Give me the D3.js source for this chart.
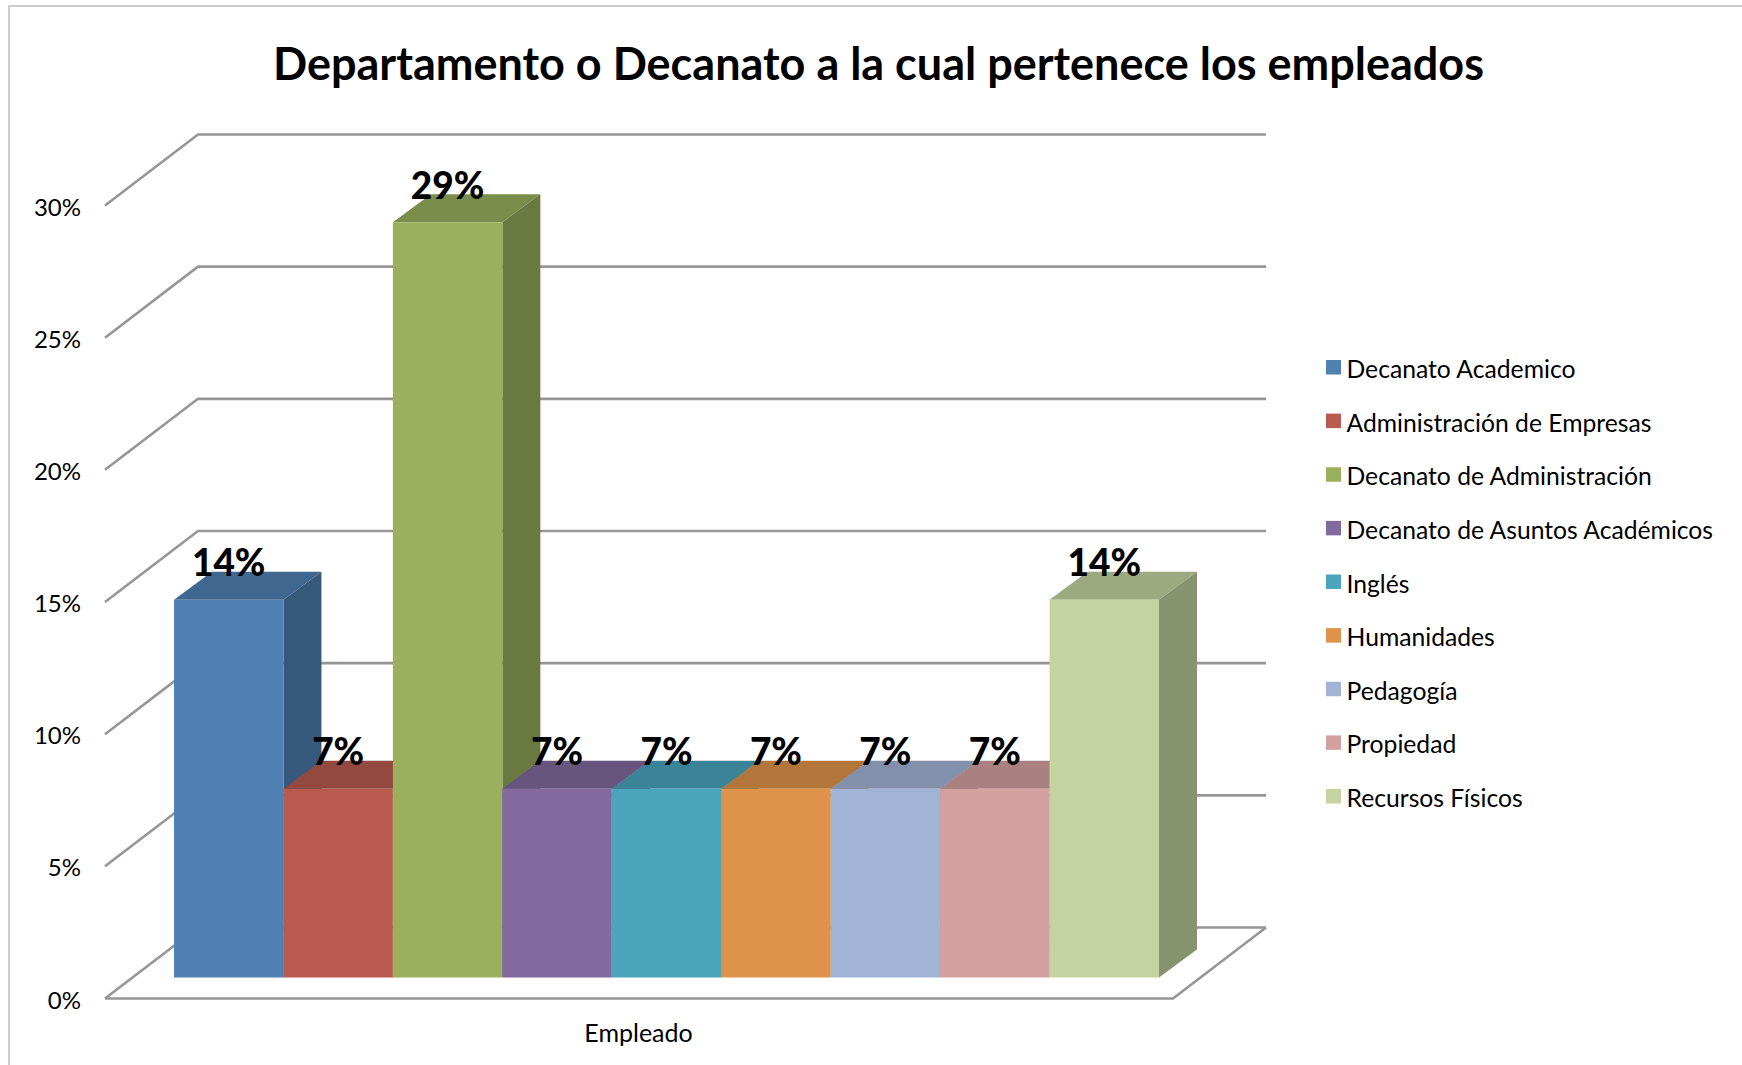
<!DOCTYPE html>
<html>
<head>
<meta charset="utf-8">
<title>Departamento o Decanato</title>
<script src="https://cdn.jsdelivr.net/npm/d3@7"></script>
<style>
html, body { margin: 0; padding: 0; background: #fff; }
svg { display: block; }
text { font-family: Lato, "Open Sans", sans-serif; fill: #000; }
</style>
</head>
<body>
<div id="chart-container"></div>
<script>
var titleText = "Departamento o Decanato a la cual pertenece los empleados";
var categoryLabel = "Empleado";
var departments = ["Decanato Academico", "Administración de Empresas", "Decanato de Administración",
    "Decanato de Asuntos Académicos", "Inglés", "Humanidades", "Pedagogía", "Propiedad", "Recursos Físicos"];
var values = [14.29, 7.14, 28.57, 7.14, 7.14, 7.14, 7.14, 7.14, 14.29];
var colors = ["#5081b3", "#b85a50", "#9ab05c", "#826a9e", "#4aa5bd", "#df934a", "#a2b4d6", "#d5a1a0", "#c4d3a0"];
var yTicks = [0, 5, 10, 15, 20, 25, 30];

var width = 1742;
var height = 1065;

// wall and floor of the 3d box
var wallDx = 93;
var wallDy = -71;
// depth of one bar
var barDx = 38;
var barDy = -28;

var svg = d3.select("#chart-container").append("svg")
    .attr("width", width)
    .attr("height", height);

var yWall = d3.scaleLinear().domain([0, 30]).range([998.5, 205.5]);
var xWall = d3.scaleLinear().domain([0, 1]).range([105, 1173]);
// bars stand a bit inside the floor, same units as the wall
var yBar = d3.scaleLinear().domain([0, 30]).range([977.5, 184.5]);
var xBar = d3.scaleBand().domain(departments).range([174, 1159]);
var yLegend = d3.scalePoint().domain(departments).range([368, 797]);

function shade(color, k) {
    var c = d3.rgb(color);
    return d3.rgb(c.r * k, c.g * k, c.b * k).formatHex();
}

function pointsOf(list) {
    return list.map(function(p) { return p[0] + "," + p[1]; }).join(" ");
}

// outer frame
svg.append("path")
    .attr("d", "M9," + height + "V6H" + width)
    .attr("fill", "none")
    .attr("stroke", "#cccccc")
    .attr("stroke-width", 2);

svg.append("text")
    .attr("x", 878.5)
    .attr("y", 80)
    .attr("text-anchor", "middle")
    .attr("font-size", 45)
    .attr("font-weight", 700)
    .text(titleText);

// gridlines: diagonal on the side wall, then straight along the back wall
svg.selectAll("path.grid")
    .data(yTicks)
    .enter()
    .append("path")
    .attr("class", "grid")
    .attr("fill", "none")
    .attr("stroke", "#969696")
    .attr("stroke-width", 2.6)
    .attr("d", function(d) {
        var x0 = xWall(0);
        var y0 = yWall(d);
        return "M" + x0 + "," + y0 + "L" + (x0 + wallDx) + "," + (y0 + wallDy) + "H" + (xWall(1) + wallDx);
    });

// front and right edge of the floor
svg.append("path")
    .attr("d", "M" + xWall(0) + "," + yWall(0) + "H" + xWall(1) + "L" + (xWall(1) + wallDx) + "," + (yWall(0) + wallDy))
    .attr("fill", "none")
    .attr("stroke", "#969696")
    .attr("stroke-width", 2.6);

svg.selectAll("text.tick")
    .data(yTicks)
    .enter()
    .append("text")
    .attr("class", "tick")
    .attr("x", 81)
    .attr("y", function(d) { return yWall(d) + 10; })
    .attr("text-anchor", "end")
    .attr("font-size", 24)
    .text(function(d) { return d + "%"; });

// bars, left to right so the next front covers the previous top
departments.forEach(function(name, i) {
    var x0 = xBar(name);
    var x1 = x0 + xBar.bandwidth();
    var yTop = yBar(values[i]);
    var yBase = yBar(0);

    svg.append("polygon")
        .attr("points", pointsOf([[x0, yTop], [x1, yTop], [x1 + barDx, yTop + barDy], [x0 + barDx, yTop + barDy]]))
        .attr("fill", shade(colors[i], 0.8));
    svg.append("polygon")
        .attr("points", pointsOf([[x1, yTop], [x1 + barDx, yTop + barDy], [x1 + barDx, yBase + barDy], [x1, yBase]]))
        .attr("fill", shade(colors[i], 0.69));
    svg.append("rect")
        .attr("x", x0)
        .attr("y", yTop)
        .attr("width", xBar.bandwidth())
        .attr("height", yBase - yTop)
        .attr("fill", colors[i]);
});

// labels go last, they sit over the bar tops
svg.selectAll("text.value")
    .data(departments)
    .enter()
    .append("text")
    .attr("class", "value")
    .attr("x", function(d) { return xBar(d) + xBar.bandwidth() / 2; })
    .attr("y", function(d, i) { return yBar(values[i]) - 23.5; })
    .attr("text-anchor", "middle")
    .attr("font-size", 37)
    .attr("font-weight", 900)
    .text(function(d, i) { return Math.round(values[i]) + "%"; });

svg.append("text")
    .attr("x", 638.5)
    .attr("y", 1042)
    .attr("text-anchor", "middle")
    .attr("font-size", 25)
    .text(categoryLabel);

// legend
svg.selectAll("rect.swatch")
    .data(departments)
    .enter()
    .append("rect")
    .attr("class", "swatch")
    .attr("x", 1326)
    .attr("y", function(d) { return yLegend(d) - 8; })
    .attr("width", 15)
    .attr("height", 14.5)
    .attr("fill", function(d, i) { return colors[i]; });

svg.selectAll("text.legend")
    .data(departments)
    .enter()
    .append("text")
    .attr("class", "legend")
    .attr("x", 1346.5)
    .attr("y", function(d) { return yLegend(d) + 10; })
    .attr("font-size", 24.7)
    .text(function(d) { return d; });
</script>
</body>
</html>
